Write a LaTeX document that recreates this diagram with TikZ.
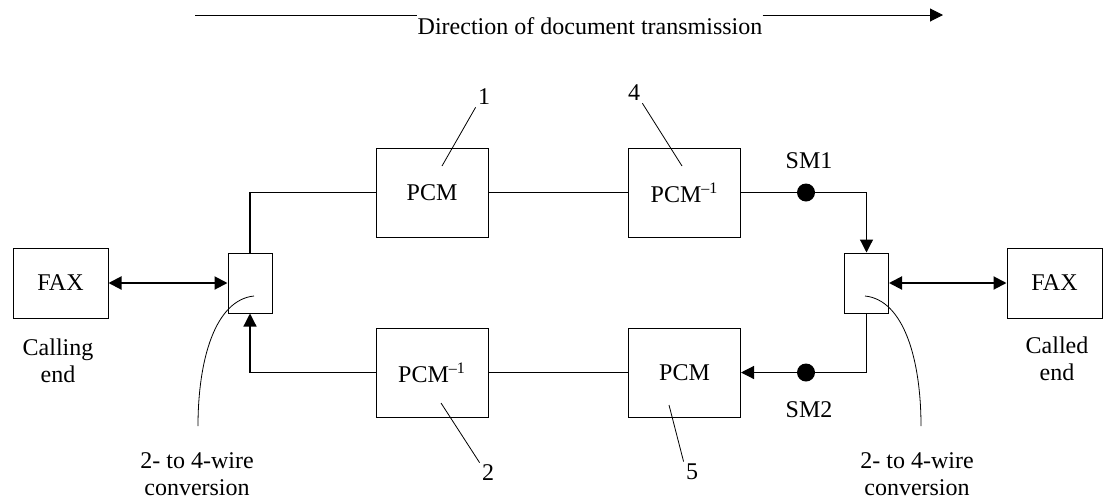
\documentclass[tikz,border=0pt]{standalone}
\usepackage{fontspec}
\setmainfont{Liberation Serif}
\usetikzlibrary{arrows.meta}
\usetikzlibrary{positioning}

\tikzset{
	pcmbox/.style={draw, line width=0.5pt, minimum width=56pt, minimum height=44.5pt, inner sep=0pt},
	faxbox/.style={draw, line width=0.5pt, minimum width=47.5pt, minimum height=35pt, inner sep=0pt},
	hybbox/.style={draw, line width=0.5pt, minimum width=22pt, minimum height=30pt, inner sep=0pt},
	smdot/.style={circle, fill, inner sep=0pt, minimum size=9pt},
	numlbl/.style={inner sep=1pt},
	leader/.style={line width=0.4pt},
	wire/.style={line width=0.6pt}
}

\begin{document}
\begin{tikzpicture}[x=0.5pt, y=-0.5pt, font=\fontsize{12}{13.5}\selectfont, >={Triangle[length=6.5pt,width=6.5pt]}]
	\useasboundingbox (0,0) rectangle (1103,499);

	%Direction of transmission
	\coordinate (dirstart) at (195,15);
	\coordinate (dirend) at (943,15);
	\node [inner sep=0pt] (dirtext) at (590,26) {Direction of document transmission};
	\draw [line width=0.5pt] (dirstart) -- (dirstart -| dirtext.west);
	\draw [line width=0.5pt, ->] (dirend -| dirtext.east) -- (dirend);

	%Terminals
	\node [faxbox] (fax1) at (60.5,283) {FAX};
	\node [faxbox] (fax2) at (1054.5,283) {FAX};
	\node [align=center] (calling) at (58,361) {Calling\\end};
	\node [align=center] (called) at (1057,359) {Called\\end};

	%Hybrids
	\node [hybbox] (hyb1) at (250,283) {};
	\node [hybbox] (hyb2) at (866.5,283) {};

	%Codecs
	\node [pcmbox] (pcm1) at (432,192.5) {PCM};
	\node [pcmbox] (ipcm4) at (684.5,192.5) {PCM\textsuperscript{--1}};
	\node [pcmbox] (ipcm2) at (432,372.5) {PCM\textsuperscript{--1}};
	\node [pcmbox] (pcm5) at (684.5,372.5) {PCM};

	%Wires
	\draw [line width=1pt, <->] (fax1) -- (hyb1);
	\draw [line width=1pt, <->] (hyb2) -- (fax2);
	\draw [wire] (hyb1.north) |- (pcm1.west);
	\draw [wire] (pcm1) -- (ipcm4);
	\draw [wire, ->] (ipcm4.east) -| (hyb2.north);
	\draw [wire, ->] (hyb2.south) |- (pcm5.east);
	\draw [wire] (pcm5) -- (ipcm2);
	\draw [wire, ->] (ipcm2.west) -| (hyb1.south);

	%Measurement points SM1 and SM2
	\node [smdot] (sm1) at (806,192.5) {};
	\node [smdot] (sm2) at (806,372.5) {};
	\node [above=3.75pt of sm1, xshift=1.5pt] (sm1lbl) {SM1};
	\node [below=6.25pt of sm2, xshift=1.5pt] (sm2lbl) {SM2};

	%Reference numbers
	\node [numlbl] (lbl1) at (484,97) {1};
	\node [numlbl] (lbl4) at (634,93) {4};
	\node [numlbl] (lbl2) at (488,473) {2};
	\node [numlbl] (lbl5) at (692,472) {5};
	\coordinate (pin1) at (442,166);
	\coordinate (pin4) at (682,166);
	\coordinate (pin2) at (441,403);
	\coordinate (pin5) at (669,405);
	\draw [leader] (lbl1.south west) -- (pin1);
	\draw [leader] (lbl4.south east) -- (pin4);
	\draw [leader] (pin2) -- (lbl2.north west);
	\draw [leader] (pin5) -- (lbl5.north west);

	%2- to 4-wire conversion
	\node [align=center] (conv1) at (197,474) {2- to 4-wire\\conversion};
	\node [align=center] (conv2) at (917,474) {2- to 4-wire\\conversion};
	\coordinate (hyb1pin) at (254,296);
	\coordinate (hyb2pin) at (865,296);
	\coordinate (conv1pin) at (198,426);
	\coordinate (conv2pin) at (921,426);
	\draw [leader] (hyb1pin) .. controls (215,300) and (198,360) .. (conv1pin);
	\draw [leader] (hyb2pin) .. controls (904,300) and (921,360) .. (conv2pin);
\end{tikzpicture}
\end{document}
